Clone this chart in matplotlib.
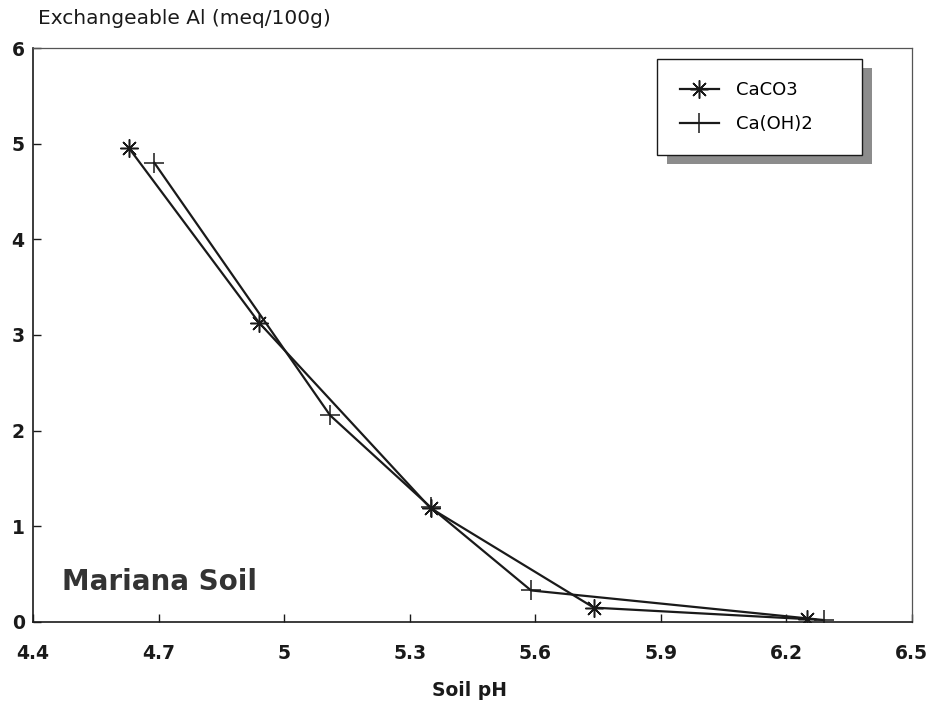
import matplotlib
matplotlib.use("Agg")
import matplotlib.pyplot as plt
from matplotlib.patches import Rectangle

# values
caco3_ph = [4.63, 4.94, 5.35, 5.74, 6.25]
caco3_al = [4.95, 3.13, 1.19, 0.15, 0.03]
caoh_ph = [4.69, 5.11, 5.35, 5.59, 6.29]
caoh_al = [4.80, 2.16, 1.20, 0.33, 0.02]

x_ticks = [4.4, 4.7, 5.0, 5.3, 5.6, 5.9, 6.2, 6.5]
x_labels = ["4.4", "4.7", "5", "5.3", "5.6", "5.9", "6.2", "6.5"]
y_ticks = [0, 1, 2, 3, 4, 5, 6]

plt.rcParams["font.family"] = ["DejaVu Sans"]
ink = "#1a1a1a"

fig = plt.figure(figsize=(9.34, 7.04), dpi=100)
ax = fig.add_axes([0.0353, 0.1165, 0.941, 0.8153])

ax.plot(caco3_ph, caco3_al, color=ink, lw=1.6, marker=(8, 2, 0),
        markersize=13, markeredgewidth=1.1, label="CaCO3")
ax.plot(caoh_ph, caoh_al, color=ink, lw=1.6, marker="+",
        markersize=15, markeredgewidth=1.1, label="Ca(OH)2")

ax.set_xlim(4.4, 6.5)
ax.set_ylim(0, 6)
ax.set_xticks(x_ticks)
ax.set_xticklabels(x_labels)
ax.set_yticks(y_ticks)
ax.tick_params(axis="x", direction="in", length=6, width=1, pad=16,
               labelsize=13.5, colors=ink)
ax.tick_params(axis="y", direction="in", length=6, width=1, pad=6,
               labelsize=13.5, colors=ink)
for lab in ax.get_xticklabels() + ax.get_yticklabels():
    lab.set_fontweight("bold")
for side, sp in ax.spines.items():
    sp.set_color(ink if side in ("left", "bottom") else "#555555")
    sp.set_linewidth(1.2 if side in ("left", "bottom") else 0.9)

ax.text(0.033, 0.055, "Mariana Soil", transform=ax.transAxes, fontsize=20,
        fontweight="bold", color="#333333", ha="left", va="baseline")

fig.text(38 / 934, 1 - 18 / 704, "Exchangeable Al (meq/100g)", fontsize=14.5,
         color=ink, ha="left", va="center")
fig.text(470 / 934, 1 - 690 / 704, "Soil pH", fontsize=13.5, fontweight="bold",
         color=ink, ha="center", va="center")

leg = ax.legend(loc="upper left", bbox_to_anchor=(0.710, 0.0, 0.233, 0.981),
                mode="expand", borderaxespad=0, fancybox=False, framealpha=1,
                edgecolor=ink, fontsize=13, handlelength=2.2,
                handletextpad=0.9, labelspacing=0.85, borderpad=1.25)
leg.get_frame().set_linewidth(1.0)
leg.set_zorder(6)

# offset drop shadow behind the legend box
fig.canvas.draw()
bb = leg.get_window_extent().transformed(fig.transFigure.inverted())
dx, dy = 10 / 934, 9 / 704
ax.add_patch(Rectangle((bb.x0 + dx, bb.y0 - dy), bb.width, bb.height,
                       transform=fig.transFigure, facecolor="0.55",
                       edgecolor="none", zorder=5, clip_on=False))

fig.savefig("out.png", dpi=100)
